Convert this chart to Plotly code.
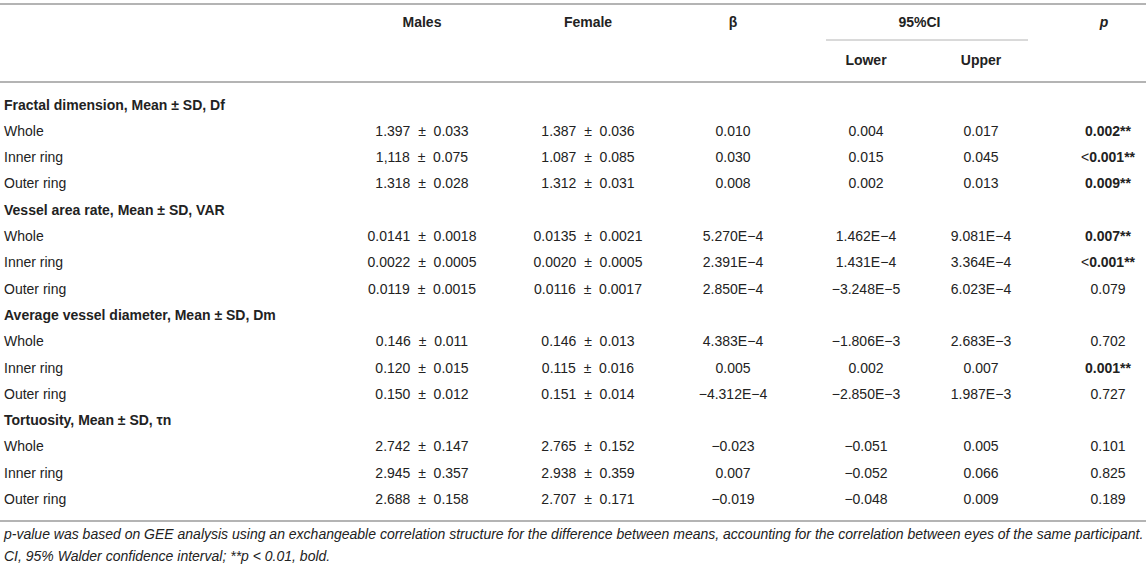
import plotly.graph_objects as go

# table content
groups = [
    "Fractal dimension, Mean ± SD, Df",
    "Vessel area rate, Mean ± SD, VAR",
    "Average vessel diameter, Mean ± SD, Dm",
    "Tortuosity, Mean ± SD, τn",
]
regions = ["Whole", "Inner ring", "Outer ring"]

males = [
    "1.397 ± 0.033", "1,118 ± 0.075", "1.318 ± 0.028",
    "0.0141 ± 0.0018", "0.0022 ± 0.0005", "0.0119 ± 0.0015",
    "0.146 ± 0.011", "0.120 ± 0.015", "0.150 ± 0.012",
    "2.742 ± 0.147", "2.945 ± 0.357", "2.688 ± 0.158",
]
female = [
    "1.387 ± 0.036", "1.087 ± 0.085", "1.312 ± 0.031",
    "0.0135 ± 0.0021", "0.0020 ± 0.0005", "0.0116 ± 0.0017",
    "0.146 ± 0.013", "0.115 ± 0.016", "0.151 ± 0.014",
    "2.765 ± 0.152", "2.938 ± 0.359", "2.707 ± 0.171",
]
beta = [
    "0.010", "0.030", "0.008",
    "5.270E−4", "2.391E−4", "2.850E−4",
    "4.383E−4", "0.005", "−4.312E−4",
    "−0.023", "0.007", "−0.019",
]
lower = [
    "0.004", "0.015", "0.002",
    "1.462E−4", "1.431E−4", "−3.248E−5",
    "−1.806E−3", "0.002", "−2.850E−3",
    "−0.051", "−0.052", "−0.048",
]
upper = [
    "0.017", "0.045", "0.013",
    "9.081E−4", "3.364E−4", "6.023E−4",
    "2.683E−3", "0.007", "1.987E−3",
    "0.005", "0.066", "0.009",
]
p_values = [
    "0.002", "<0.001", "0.009",
    "0.007", "<0.001", "0.079",
    "0.702", "0.001", "0.727",
    "0.101", "0.825", "0.189",
]
significant = [
    True, True, True,
    True, True, False,
    False, True, False,
    False, False, False,
]

footnote = [
    "p-value was based on GEE analysis using an exchangeable correlation structure for the difference between means, "
    "accounting for the correlation between eyes of the same participant.",
    "CI, 95% Walder confidence interval; **p < 0.01, bold.",
]

W, H = 1146, 571
FONT = "Liberation Sans, Arial, Helvetica, sans-serif"
TXT = "#222222"
LINE = "#b4b4b4"
FS = 14

col_x = {"males": 422, "female": 588, "beta": 733, "lower": 866, "upper": 981, "p": 1108}
row0, step = 106, 26.3


def wide_pm(s):
    # the source table puts extra room around the plus-minus sign
    return s.replace(" ± ", "\u00a0\u00a0±\u00a0\u00a0")


def fmt_p(v, sig):
    if not sig:
        return v
    if v.startswith("<"):
        return "&lt;<b>" + v[1:] + "**</b>"
    return "<b>" + v + "**</b>"


# build row list: group header rows + data rows
label_y, label_txt = [], []
data_y = []
k = 0
for g in groups:
    label_y.append(row0 + k * step)
    label_txt.append("<b>" + g + "</b>")
    k += 1
    for r in regions:
        label_y.append(row0 + k * step)
        label_txt.append(r)
        data_y.append(row0 + k * step)
        k += 1

fig = go.Figure()

fig.add_trace(go.Scatter(
    x=[4] * len(label_y), y=label_y, text=label_txt, mode="text",
    textposition="middle right", textfont=dict(family=FONT, size=FS, color=TXT),
    hoverinfo="skip", showlegend=False,
))

columns = [
    ("males", [wide_pm(v) for v in males]),
    ("female", [wide_pm(v) for v in female]),
    ("beta", beta),
    ("lower", lower),
    ("upper", upper),
    ("p", [fmt_p(v, s) for v, s in zip(p_values, significant)]),
]
for key, vals in columns:
    fig.add_trace(go.Scatter(
        x=[col_x[key]] * len(vals), y=data_y, text=vals, mode="text",
        textposition="middle center", textfont=dict(family=FONT, size=FS, color=TXT),
        hoverinfo="skip", showlegend=False,
    ))

# header
head_y = 23
headers = [
    (col_x["males"], head_y, "<b>Males</b>"),
    (col_x["female"], head_y, "<b>Female</b>"),
    (col_x["beta"], head_y, "<b>β</b>"),
    ((col_x["lower"] + col_x["upper"]) / 2 - 4, head_y, "<b>95%CI</b>"),
    (col_x["p"] - 4, head_y, "<b><i>p</i></b>"),
    (col_x["lower"], 61, "<b>Lower</b>"),
    (col_x["upper"], 61, "<b>Upper</b>"),
]
fig.add_trace(go.Scatter(
    x=[h[0] for h in headers], y=[h[1] for h in headers], text=[h[2] for h in headers],
    mode="text", textposition="middle center",
    textfont=dict(family=FONT, size=FS, color=TXT),
    hoverinfo="skip", showlegend=False,
))

# footnotes
fig.add_trace(go.Scatter(
    x=[4, 4], y=[535, 557], text=["<i>" + f + "</i>" for f in footnote],
    mode="text", textposition="middle right",
    textfont=dict(family=FONT, size=FS, color=TXT),
    hoverinfo="skip", showlegend=False,
))

shapes = [
    dict(type="line", x0=0, x1=W, y0=4, y1=4, line=dict(color=LINE, width=2)),
    dict(type="line", x0=0, x1=W, y0=82, y1=82, line=dict(color=LINE, width=2)),
    dict(type="line", x0=0, x1=W, y0=521, y1=521, line=dict(color=LINE, width=2)),
    dict(type="line", x0=826, x1=1028, y0=40, y1=40, line=dict(color=LINE, width=1)),
]

fig.update_layout(
    width=W, height=H,
    margin=dict(l=0, r=0, t=0, b=0),
    paper_bgcolor="white", plot_bgcolor="white",
    xaxis=dict(range=[0, W], visible=False, fixedrange=True),
    yaxis=dict(range=[H, 0], visible=False, fixedrange=True),
    shapes=shapes,
)

fig.write_html(
    "out.html",
    config={"displayModeBar": False},
    post_script="document.body.style.margin='0px';",
)
